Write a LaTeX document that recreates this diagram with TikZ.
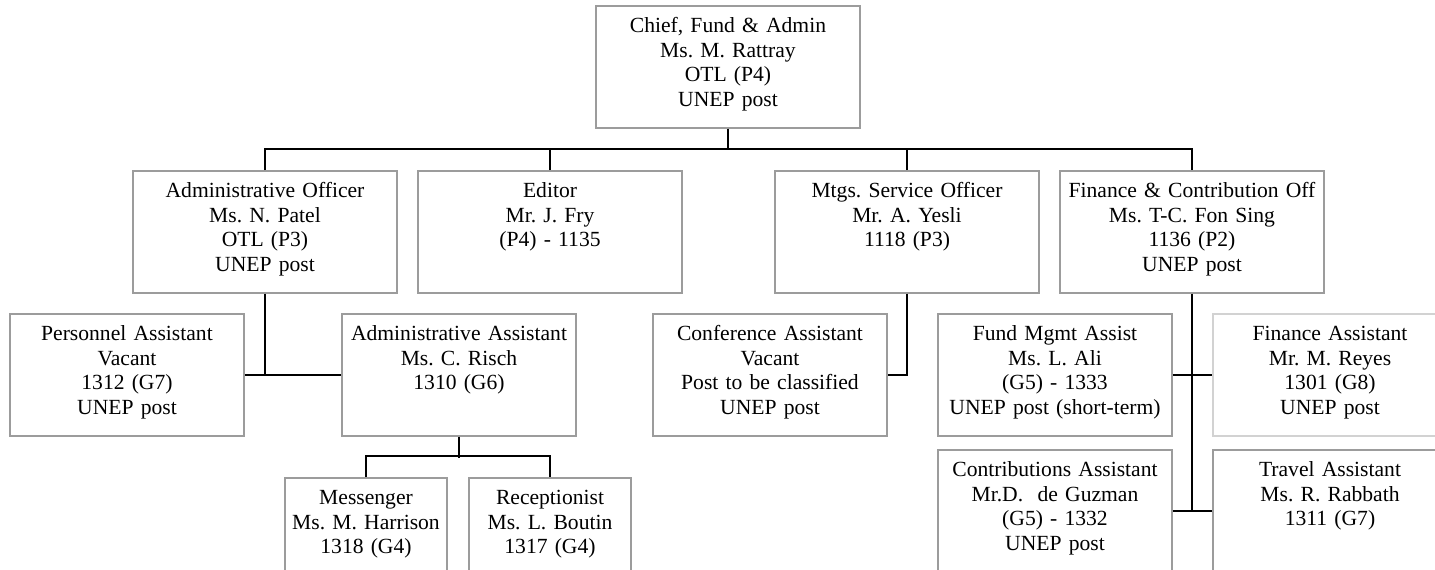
\documentclass[tikz,border=0pt]{standalone}
\usepackage{fontspec}
\setmainfont{Liberation Serif}
\usetikzlibrary{calc}
\frenchspacing

\definecolor{boxgray}{HTML}{9C9C9C}
\definecolor{palegray}{HTML}{D2D2D2}

\begin{document}
\begin{tikzpicture}[
    x=0.5pt, y=-0.5pt,
    font=\fontsize{10.8}{12.3}\selectfont,
    post/.style={rectangle, draw=boxgray, line width=0.75pt, anchor=north, align=center, inner xsep=2pt, inner ysep=5.5pt, text height=8pt, text depth=42pt},
    wide/.style={post, text width=128pt},
    mid/.style={post, text width=113pt},
    small/.style={post, text width=77pt},
    link/.style={draw, line width=1pt}
]
\useasboundingbox (0,0) rectangle (1435,569);
\clip (0,0) rectangle (1435,569);

% Nodes
\node [wide] (chief) at (728,5) {Chief, Fund \& Admin\\Ms. M. Rattray\\OTL (P4)\\UNEP post};

\node [wide] (adminoff) at (265,170) {Administrative Officer\\Ms. N. Patel\\OTL (P3)\\UNEP post};
\node [wide] (editor) at (550,170) {Editor\\Mr. J. Fry\\(P4) - 1135};
\node [wide] (mtgs) at (907,170) {Mtgs. Service Officer\\Mr. A. Yesli\\1118 (P3)};
\node [wide] (finoff) at (1192,170) {Finance \& Contribution Off\\Ms. T-C. Fon Sing\\1136 (P2)\\UNEP post};

\node [mid] (personnel) at (127,313) {Personnel Assistant\\Vacant\\1312 (G7)\\UNEP post};
\node [mid] (adminasst) at (459,313) {Administrative Assistant\\Ms. C. Risch\\1310 (G6)};
\node [mid] (conf) at (770,313) {Conference Assistant\\Vacant\\Post to be classified\\UNEP post};
\node [mid] (fundmgmt) at (1055,313) {Fund Mgmt Assist\\Ms. L. Ali\\(G5) - 1333\\UNEP post (short-term)};
\node [mid, draw=palegray] (finasst) at (1330,313) {Finance Assistant\\Mr. M. Reyes\\1301 (G8)\\UNEP post};

\node [small] (messenger) at (366,477) {Messenger\\Ms. M. Harrison\\1318 (G4)};
\node [small] (reception) at (550,477) {Receptionist\\Ms. L. Boutin\\1317 (G4)};

\node [mid] (contrib) at (1055,449) {Contributions Assistant\\Mr.D.~ de Guzman\\(G5) - 1332\\UNEP post};
\node [mid] (travel) at (1330,449) {Travel Assistant\\Ms. R. Rabbath\\1311 (G7)};

% Edges
\coordinate (bus) at (0,149);
\path [link] (chief.south) -- (chief.south |- bus);
\path [link] (adminoff.north) -- (adminoff.north |- bus) -| (finoff.north);
\path [link] (editor.north) -- (editor.north |- bus);
\path [link] (mtgs.north) -- (mtgs.north |- bus);

\path [link] (adminoff.south) |- (personnel.east);
\path [link] (personnel.east) -- (adminasst.west);
\path [link] (adminasst.south) -- ++(0,21);
\path [link] (messenger.north) -- ++(0,-21) -| (reception.north);

\path [link] (mtgs.south) |- (conf.east);

\path [link] (finoff.south) |- (contrib.east);
\path [link] (fundmgmt.east) -- (finasst.west);
\path [link] (contrib.east) -- (travel.west);

\end{tikzpicture}
\end{document}
